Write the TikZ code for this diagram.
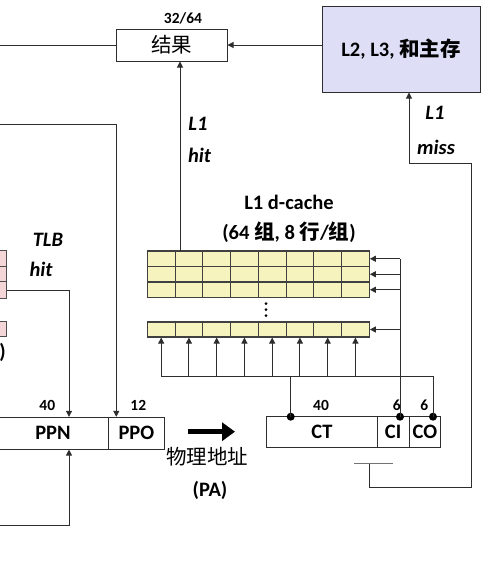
\documentclass[tikz,border=0pt]{standalone}
\usepackage{fontspec}
\setmainfont{Carlito}
\newfontfamily\cjk{Noto Sans CJK SC}
\usetikzlibrary{arrows.meta}
\newcommand\zh[1]{{\cjk #1}}
\definecolor{cellyellow}{RGB}{246,243,190}
\definecolor{tlbpink}{RGB}{244,214,216}
\definecolor{l2fill}{RGB}{222,222,246}
\definecolor{lineclr}{RGB}{45,45,45}
\begin{document}
\begin{tikzpicture}[x=1pt,y=-1pt,
  conn/.style={draw=lineclr, line width=1pt},
  arr/.style={conn,-{Triangle[length=6pt,width=6pt]}},
  box/.style={draw=lineclr, line width=1pt, inner sep=0pt},
  cell/.style={draw=black!75, line width=1.1pt, fill=cellyellow, minimum width=27.75pt, minimum height=15.5pt, inner sep=0pt},
  tcell/.style={draw=black!70, line width=1pt, fill=tlbpink, minimum width=26pt, inner sep=0pt},
  dot/.style={circle, fill=black, inner sep=0pt, minimum size=8pt},
  sdot/.style={circle, fill=black, inner sep=0pt, minimum size=3pt},
  big/.style={font=\bfseries\fontsize{20.5}{22}\selectfont, inner sep=0pt},
  bigit/.style={font=\bfseries\itshape\fontsize{20.5}{22}\selectfont, inner sep=0pt},
  small/.style={font=\bfseries\fontsize{15.5}{17}\selectfont, inner sep=0pt}]
\path[use as bounding box, clip] (0,0) rectangle (486,568);

% result box and L2
\node[box, minimum width=111pt, minimum height=32pt, font=\fontsize{20.5}{22}\selectfont] (res) at (171.5,45) {\zh{结果}};
\node[small] (w3264) at (183,18) {32/64};
\node[box, fill=l2fill, minimum width=158pt, minimum height=86pt, font=\bfseries\fontsize{20.5}{22}\selectfont] (L2) at (401,49) {L2, L3, \zh{和主存}};
\coordinate (leftres) at (0,45);
\draw[conn] (leftres) -- (res.west);
\draw[arr] (res.east -| L2.west) -- (res.east);

% cache rows
\foreach \k in {1,...,8}{
  \node[cell] (ca\k) at ({147.3+27.75*(\k-0.5)},258.75) {};
  \node[cell] (cb\k) at ({147.3+27.75*(\k-0.5)},274.25) {};
  \node[cell] (cc\k) at ({147.3+27.75*(\k-0.5)},289.75) {};
  \node[cell, minimum height=15pt] (cn\k) at ({147.3+27.75*(\k-0.5)},329.5) {};
}
\node[sdot] (vd1) at (266,303.5) {};
\node[sdot] (vd2) at (266,309.5) {};
\node[sdot] (vd3) at (266,315.5) {};
\node[big] (l1title) at (289,202) {L1 d-cache};
\node[big] (l1sets) at (289,232) {(64 \zh{组}, 8 \zh{行}/\zh{组})};

% L1 hit
\coordinate (hitsrc) at (180,251);
\draw[arr] (hitsrc) -- (hitsrc |- res.south);
\node[bigit] (l1h1) at (198,124) {L1};
\node[bigit] (l1h2) at (199.5,155) {hit};

% CT CI CO
\node[box, minimum width=110.6pt, minimum height=31pt] (CT) at (322,432.2) {};
\node[box, minimum width=31.7pt, minimum height=31pt] (CI) at (393.15,432.2) {};
\node[box, minimum width=31.7pt, minimum height=31pt] (CO) at (424.85,432.2) {};
\node[big] at (CT) {CT};
\node[big] at (CI) {CI};
\node[big] at (CO) {CO};
\node[small] (n40b) at (321,405) {40};
\node[small] (n6a) at (396.7,405) {6};
\node[small] (n6b) at (424.3,405) {6};
\node[dot] (dCT) at (290.7,416.7) {};
\node[dot] (dCI) at (400,416.7) {};
\node[dot] (dCO) at (433,416.7) {};

% set index lines
\draw[conn] (dCI.center) -- (dCI |- ca8.east);
\foreach \r in {ca,cb,cc,cn}{
  \draw[arr] (\r8.east -| dCI) -- (\r8.east);
}
% tag compare bus
\coordinate (bus) at (0,376.7);
\draw[conn] (cn1.south |- bus) -- (dCO |- bus) -- (dCO.center);
\draw[conn] (dCT |- bus) -- (dCT.center);
\foreach \k in {1,...,8}{
  \draw[arr] (cn\k.south |- bus) -- (cn\k.south);
}

% L1 miss
\coordinate (tl) at (354,463.7);
\coordinate (tr) at (392.7,463.7);
\coordinate (tm) at (369.3,463.7);
\draw[draw=black!55, line width=1pt] (tl) -- (tr);
\coordinate (m1) at (471.7,487);
\coordinate (m2) at (409,163);
\draw[arr] (tm) |- (m1) |- (m2) -- (m2 |- L2.south);
\node[bigit] (l1m1) at (435,113) {L1};
\node[bigit] (l1m2) at (436,147) {miss};

% TLB cells
\node[tcell, minimum height=16pt] (t1) at (-7,258.7) {};
\node[tcell, minimum height=15pt] (t2) at (-7,274.2) {};
\node[tcell, minimum height=16.6pt] (t3) at (-7,290) {};
\node[tcell, minimum height=15pt] (tn) at (-7,329.2) {};
\node[big, anchor=east] (paren) at (6,352) {)};
\node[bigit] (tlbh1) at (48,240) {TLB};
\node[bigit] (tlbh2) at (41,269) {hit};

% PPN PPO
\node[box, minimum width=112.7pt, minimum height=31.7pt] (PPN) at (52.35,433.2) {};
\node[box, minimum width=55.3pt, minimum height=31.7pt] (PPO) at (136.35,433.2) {};
\node[big] at (53,433) {PPN};
\node[big] at (PPO) {PPO};
\node[small] (n40a) at (47.3,405) {40};
\node[small] (n12) at (138.3,405) {12};

\coordinate (ppnx) at (69,0);
\draw[arr] (t3.east) -| (ppnx |- PPN.north);
\coordinate (ppo1) at (0,124);
\coordinate (ppox) at (116.3,0);
\draw[arr] (ppo1) -| (ppox |- PPO.north);
\coordinate (ppnb) at (0,525.7);
\draw[arr] (ppnb) -| (ppnx |- PPN.south);

% physical address arrow
\coordinate (pa1) at (187.7,431.7);
\coordinate (pa2) at (235,431.7);
\draw[line width=5pt, -{Triangle[length=13pt,width=18pt]}] (pa1) -- (pa2);
\node[inner sep=0pt, font=\fontsize{20.5}{22}\selectfont] (pa) at (207,457) {\zh{物理地址}};
\node[big] (pa2t) at (210,490) {(PA)};
\end{tikzpicture}
\end{document}
